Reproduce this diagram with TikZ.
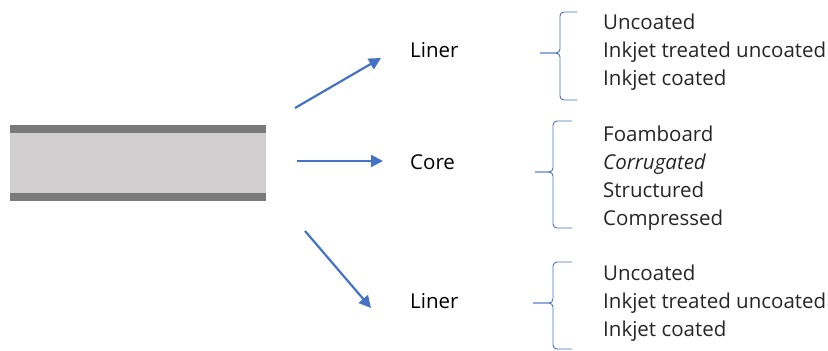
\documentclass[tikz,border=0pt]{standalone}
\usepackage{fontspec}
\setmainfont{Open Sans}
\usetikzlibrary{arrows.meta}
\definecolor{arrowblue}{HTML}{4472C4}
\definecolor{darkband}{HTML}{7A7A7A}
\definecolor{lightcore}{HTML}{D0CECE}
\definecolor{listtext}{HTML}{262626}
\tikzset{
  arr/.style={draw=arrowblue, line width=2.2pt, -{Triangle[length=12pt,width=12pt]}},
  brc/.style={draw=arrowblue, line width=0.9pt, rounded corners=4pt},
  lbl/.style={anchor=base west, inner sep=0pt, font=\fontsize{20.5}{24}\selectfont, text=black},
  lst/.style={anchor=base west, inner sep=0pt, font=\fontsize{20.5}{24}\selectfont, text=listtext},
}
\begin{document}
\begin{tikzpicture}[x=1pt,y=-1pt]
\useasboundingbox (0,0) rectangle (828,351);
% board
\fill[lightcore] (10,133) rectangle (266,193);
\fill[darkband] (10,125) rectangle (266,133);
\fill[darkband] (10,193) rectangle (266,201);
% labels
\node[lbl] (liner1) at (410,57) {Liner};
\node[lbl] (core) at (410,169) {Core};
\node[lbl] (liner2) at (410,308) {Liner};
% arrows
\coordinate (a1s) at (295,108); \coordinate (a1e) at (381,58);
\coordinate (a2s) at (297,161); \coordinate (a2e) at (383,161);
\coordinate (a3s) at (305,231); \coordinate (a3e) at (371,308);
\draw[arr] (a1s) -- (a1e);
\draw[arr] (a2s) -- (a2e);
\draw[arr] (a3s) -- (a3e);
% braces
\draw[brc] (577,12) -- (560,12) -- (560,53) -- (540,53);
\draw[brc] (540,53) -- (560,53) -- (560,100) -- (577,100);
\draw[brc] (572,121) -- (553,121) -- (553,172) -- (535,172);
\draw[brc] (535,172) -- (553,172) -- (553,228) -- (572,228);
\draw[brc] (572,262) -- (553,262) -- (553,303) -- (533,303);
\draw[brc] (533,303) -- (553,303) -- (553,349) -- (572,349);
% lists
\node[lst] (t1) at (603,29) {Uncoated};
\node[lst] (t2) at (603,57) {Inkjet treated uncoated};
\node[lst] (t3) at (603,85) {Inkjet coated};
\node[lst] (m1) at (603,141) {Foamboard};
\node[lst] (m2) at (603,169) {\itshape Corrugated};
\node[lst] (m3) at (603,197) {Structured};
\node[lst] (m4) at (603,225) {Compressed};
\node[lst] (b1) at (603,280) {Uncoated};
\node[lst] (b2) at (603,308) {Inkjet treated uncoated};
\node[lst] (b3) at (603,336) {Inkjet coated};
\end{tikzpicture}
\end{document}
